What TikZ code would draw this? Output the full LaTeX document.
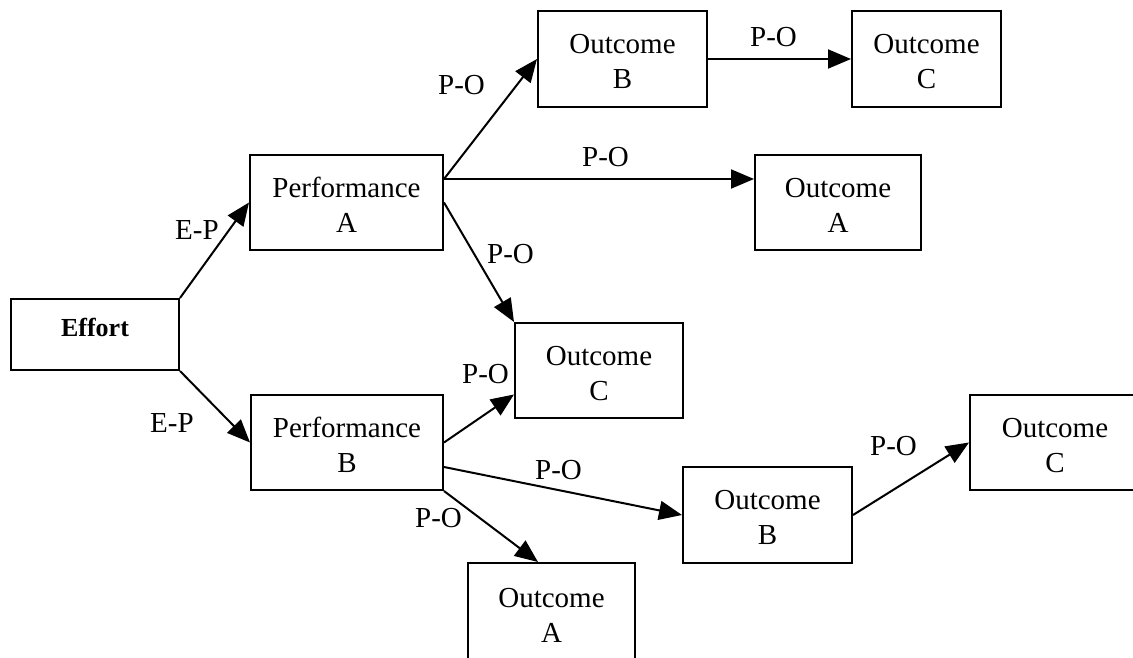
\documentclass[tikz,border=0pt]{standalone}
\usepackage{fontspec}
\setmainfont{Liberation Serif}
\usetikzlibrary{arrows.meta}
\begin{document}
\begin{tikzpicture}[x=1pt,y=-1pt,
  box/.style={draw, line width=2pt, align=center, inner sep=0pt,
    text height=59pt, text depth=0pt,
    font=\fontsize{29}{35}\selectfont},
  conn/.style={line width=2pt, -{Triangle[length=23pt,width=19pt]}},
  lab/.style={anchor=base west, inner sep=0pt, font=\fontsize{29}{35}\selectfont}]
\useasboundingbox (0,0) rectangle (1133,658);
\clip (0,0) rectangle (1133,658);
% boxes
\node[box, minimum width=168pt, minimum height=71pt,
  font=\fontsize{26}{31}\selectfont\bfseries, text height=18pt, text depth=15pt]
  (eff) at (95,334.5) {Effort};
\node[box, minimum width=193pt, minimum height=95pt] (pa) at (346.5,202.5) {Performance\\A};
\node[box, minimum width=192pt, minimum height=95pt] (pb) at (347,442.5) {Performance\\B};
\node[box, minimum width=169pt, minimum height=96pt] (ob1) at (622.5,59) {Outcome\\B};
\node[box, minimum width=149pt, minimum height=96pt] (oc1) at (926.5,59) {Outcome\\C};
\node[box, minimum width=166pt, minimum height=95pt] (oa1) at (838,202.5) {Outcome\\A};
\node[box, minimum width=168pt, minimum height=95pt] (oc2) at (599,370.5) {Outcome\\C};
\node[box, minimum width=169pt, minimum height=96pt] (ob2) at (767.5,515) {Outcome\\B};
\node[box, minimum width=170pt, minimum height=95pt] (oc3) at (1055,442.5) {Outcome\\C};
\node[box, minimum width=167pt, minimum height=99pt] (oa2) at (551.5,612.5) {Outcome\\A};
% connectors
\draw[conn] (eff.north east) -- (pa.west);
\draw[conn] (eff.south east) -- (pb.west);
\draw[conn] ([yshift=23.5pt]pa.east) -- (ob1.west);
\draw[conn] ([yshift=23.5pt]pa.east) -- ([yshift=23.5pt]oa1.west);
\draw[conn] (pa.east) -- (oc2.north west);
\draw[conn] (pb.east) -- ([yshift=-24pt]oc2.west);
\draw[conn] ([yshift=-24.5pt]pb.east) -- (ob2.west);
\draw[conn] (pb.south east) -- ([xshift=-13.5pt]oa2.north);
\draw[conn] (ob2.east) -- (oc3.west);
\draw[conn] (ob1.east) -- (oc1.west);
% labels
\node[lab] (l1) at (175,239) {E-P};
\node[lab] (l2) at (150,432) {E-P};
\node[lab] (l3) at (438,95) {P-O};
\node[lab] (l4) at (750,47) {P-O};
\node[lab] (l5) at (582,167) {P-O};
\node[lab] (l6) at (487,263) {P-O};
\node[lab] (l7) at (462,383) {P-O};
\node[lab] (l8) at (535,479) {P-O};
\node[lab] (l9) at (415,527) {P-O};
\node[lab] (l10) at (870,455) {P-O};
\end{tikzpicture}
\end{document}
